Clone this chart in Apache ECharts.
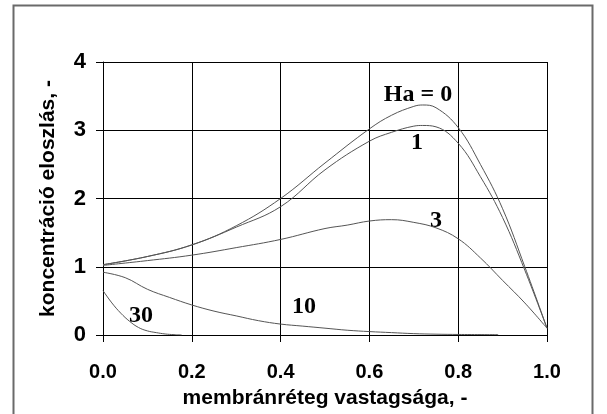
<!DOCTYPE html>
<html>
<head>
<meta charset="utf-8">
<script src="https://cdn.jsdelivr.net/npm/echarts@6/dist/echarts.min.js"></script>
<style>
  html, body { margin: 0; padding: 0; background: #fff; }
  #chart { width: 607px; height: 414px; }
</style>
</head>
<body>
<div id="chart"></div>
<script>
// Concentration profiles across the membrane layer for several Hatta numbers
const xTicks = [0, 0.2, 0.4, 0.6, 0.8, 1.0];
const yTicks = [0, 1, 2, 3, 4];

const ha0X = [0, 0.1, 0.2, 0.3, 0.4, 0.5, 0.6, 0.65, 0.7, 0.72, 0.75, 0.8, 0.85, 0.9, 0.95, 1.0];
const ha0Y = [1.03, 1.15, 1.32, 1.60, 2.00, 2.52, 3.02, 3.22, 3.35, 3.37, 3.33, 3.04, 2.50, 1.85, 1.00, 0.10];

const ha1X = [0, 0.1, 0.2, 0.3, 0.4, 0.5, 0.6, 0.65, 0.7, 0.72, 0.75, 0.8, 0.85, 0.9, 0.95, 1.0];
const ha1Y = [1.03, 1.15, 1.32, 1.58, 1.88, 2.42, 2.84, 2.97, 3.06, 3.07, 3.05, 2.81, 2.32, 1.72, 0.95, 0.10];

const ha3X = [0, 0.1, 0.2, 0.3, 0.4, 0.5, 0.55, 0.6, 0.65, 0.7, 0.75, 0.8, 0.85, 0.9, 0.95, 1.0];
const ha3Y = [1.02, 1.09, 1.17, 1.28, 1.40, 1.56, 1.61, 1.67, 1.69, 1.65, 1.57, 1.41, 1.13, 0.80, 0.47, 0.10];

const ha10X = [0, 0.05, 0.1, 0.15, 0.2, 0.25, 0.3, 0.35, 0.4, 0.45, 0.5, 0.55, 0.6, 0.65, 0.7, 0.75, 0.8, 0.89];
const ha10Y = [0.92, 0.84, 0.67, 0.55, 0.44, 0.35, 0.28, 0.21, 0.16, 0.13, 0.10, 0.07, 0.05, 0.035, 0.02, 0.012, 0.008, 0.005];

const ha30X = [0, 0.02, 0.04, 0.06, 0.08, 0.1, 0.12, 0.14, 0.16, 0.177];
const ha30Y = [0.65, 0.47, 0.32, 0.20, 0.11, 0.06, 0.035, 0.015, 0.005, 0.0];

const curveLabels = ['Ha = 0', '1', '3', '10', '30'];

function pairs(xs, ys) { return xs.map((x, i) => [x, ys[i]]); }

const lineStyle = { color: '#555', width: 1 };
function curve(name, xs, ys) {
  return {
    name: name, type: 'line', data: pairs(xs, ys), smooth: 0.4,
    showSymbol: false, lineStyle: lineStyle, silent: true
  };
}

const chart = echarts.init(document.getElementById('chart'), null, { renderer: 'canvas' });
const labelFont = { fontFamily: 'Liberation Serif', fontWeight: 'bold', fontSize: 24, fill: '#000' };
const sansBold = { fontFamily: 'Liberation Sans', fontWeight: 'bold', color: '#000' };

chart.setOption({
  animation: false,
  backgroundColor: '#fff',
  grid: { left: 103, right: 60, top: 62, bottom: 78, containLabel: false },
  xAxis: {
    type: 'value', min: xTicks[0], max: xTicks[xTicks.length - 1], interval: 0.2,
    name: 'membránréteg vastagsága, -', nameLocation: 'middle', nameGap: 53,
    nameTextStyle: Object.assign({ fontSize: 21 }, sansBold),
    axisLine: { lineStyle: { color: '#000', width: 1 } },
    axisTick: { show: true, length: 7, lineStyle: { color: '#000' } },
    splitLine: { show: true, lineStyle: { color: '#000', width: 1 } },
    axisLabel: Object.assign({ margin: 27, fontSize: 20, formatter: v => v.toFixed(1) }, sansBold)
  },
  yAxis: {
    type: 'value', min: yTicks[0], max: yTicks[yTicks.length - 1], interval: 1,
    name: 'koncentráció eloszlás, -', nameLocation: 'middle', nameGap: 44, nameRotate: 90,
    nameTextStyle: Object.assign({ fontSize: 21 }, sansBold),
    axisLine: { show: true, lineStyle: { color: '#000', width: 1 } },
    axisTick: { show: true, length: 7, lineStyle: { color: '#000' } },
    splitLine: { show: true, lineStyle: { color: '#000', width: 1 } },
    axisLabel: Object.assign({ margin: 17, fontSize: 22 }, sansBold)
  },
  series: [
    curve(curveLabels[0], ha0X, ha0Y),
    curve(curveLabels[1], ha1X, ha1Y),
    curve(curveLabels[2], ha3X, ha3Y),
    curve(curveLabels[3], ha10X, ha10Y),
    curve(curveLabels[4], ha30X, ha30Y)
  ],
  graphic: [
    { type: 'rect', left: 11, top: 3, shape: { width: 579, height: 430 }, style: { fill: 'none', stroke: '#6a6a6a', lineWidth: 2 }, silent: true },
    { type: 'text', x: 418, y: 95, style: Object.assign({ text: curveLabels[0], align: 'center', verticalAlign: 'middle' }, labelFont) },
    { type: 'text', x: 417, y: 143, style: Object.assign({ text: curveLabels[1], align: 'center', verticalAlign: 'middle' }, labelFont) },
    { type: 'text', x: 436, y: 221, style: Object.assign({ text: curveLabels[2], align: 'center', verticalAlign: 'middle' }, labelFont) },
    { type: 'text', x: 304, y: 307, style: Object.assign({ text: curveLabels[3], align: 'center', verticalAlign: 'middle' }, labelFont) },
    { type: 'text', x: 141, y: 316, style: Object.assign({ text: curveLabels[4], align: 'center', verticalAlign: 'middle' }, labelFont) }
  ]
});
</script>
</body>
</html>
